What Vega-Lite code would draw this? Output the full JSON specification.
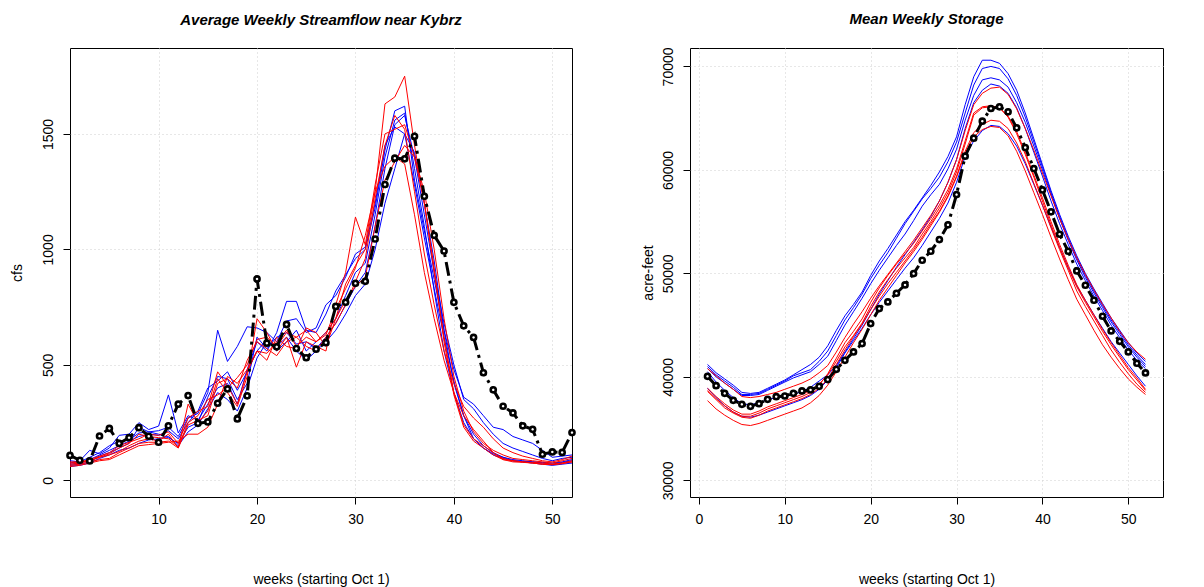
{
"$schema": "https://vega.github.io/schema/vega-lite/v6.json",
"padding": {"left": 9, "top": 11, "right": 0, "bottom": 0},
"bounds": "flush",
"spacing": 118,
"config": {
  "font": "Liberation Sans",
  "view": {"stroke": "black", "strokeWidth": 1},
  "axis": {"domain": false, "tickColor": "black", "tickSize": 7, "labelFont": "Liberation Sans", "labelFontSize": 14, "labelColor": "black", "titleFont": "Liberation Sans", "titleFontSize": 14, "titleFontWeight": "normal", "titleColor": "black", "grid": true, "gridColor": "#cfcfcf", "gridDash": [1, 3], "labelPadding": 8},
  "title": {"font": "Liberation Sans", "fontSize": 15, "fontStyle": "italic", "fontWeight": "bold", "offset": 20, "color": "black"}
},
"datasets": {
"flow": [
{"s":"A1","w":1,"v":85},{"s":"A1","w":2,"v":80},{"s":"A1","w":3,"v":100},{"s":"A1","w":4,"v":120},{"s":"A1","w":5,"v":150},{"s":"A1","w":6,"v":170},{"s":"A1","w":7,"v":175},{"s":"A1","w":8,"v":205},{"s":"A1","w":9,"v":210},{"s":"A1","w":10,"v":215},{"s":"A1","w":11,"v":230},{"s":"A1","w":12,"v":190},{"s":"A1","w":13,"v":270},{"s":"A1","w":14,"v":290},{"s":"A1","w":15,"v":380},{"s":"A1","w":16,"v":650},{"s":"A1","w":17,"v":515},{"s":"A1","w":18,"v":580},{"s":"A1","w":19,"v":665},{"s":"A1","w":20,"v":660},{"s":"A1","w":21,"v":640},{"s":"A1","w":22,"v":600},{"s":"A1","w":23,"v":690},{"s":"A1","w":24,"v":700},{"s":"A1","w":25,"v":640},{"s":"A1","w":26,"v":660},{"s":"A1","w":27,"v":760},{"s":"A1","w":28,"v":800},{"s":"A1","w":29,"v":880},{"s":"A1","w":30,"v":980},{"s":"A1","w":31,"v":1010},{"s":"A1","w":32,"v":1200},{"s":"A1","w":33,"v":1450},{"s":"A1","w":34,"v":1530},{"s":"A1","w":35,"v":1500},{"s":"A1","w":36,"v":1280},{"s":"A1","w":37,"v":1050},{"s":"A1","w":38,"v":830},{"s":"A1","w":39,"v":620},{"s":"A1","w":40,"v":430},{"s":"A1","w":41,"v":280},{"s":"A1","w":42,"v":180},{"s":"A1","w":43,"v":140},{"s":"A1","w":44,"v":110},{"s":"A1","w":45,"v":95},{"s":"A1","w":46,"v":85},{"s":"A1","w":47,"v":82},{"s":"A1","w":48,"v":80},{"s":"A1","w":49,"v":75},{"s":"A1","w":50,"v":70},{"s":"A1","w":51,"v":78},{"s":"A1","w":52,"v":85},
{"s":"A2","w":1,"v":75},{"s":"A2","w":2,"v":85},{"s":"A2","w":3,"v":130},{"s":"A2","w":4,"v":115},{"s":"A2","w":5,"v":140},{"s":"A2","w":6,"v":195},{"s":"A2","w":7,"v":200},{"s":"A2","w":8,"v":250},{"s":"A2","w":9,"v":220},{"s":"A2","w":10,"v":235},{"s":"A2","w":11,"v":370},{"s":"A2","w":12,"v":205},{"s":"A2","w":13,"v":280},{"s":"A2","w":14,"v":260},{"s":"A2","w":15,"v":330},{"s":"A2","w":16,"v":400},{"s":"A2","w":17,"v":420},{"s":"A2","w":18,"v":330},{"s":"A2","w":19,"v":480},{"s":"A2","w":20,"v":600},{"s":"A2","w":21,"v":560},{"s":"A2","w":22,"v":640},{"s":"A2","w":23,"v":775},{"s":"A2","w":24,"v":775},{"s":"A2","w":25,"v":650},{"s":"A2","w":26,"v":640},{"s":"A2","w":27,"v":720},{"s":"A2","w":28,"v":820},{"s":"A2","w":29,"v":890},{"s":"A2","w":30,"v":960},{"s":"A2","w":31,"v":1000},{"s":"A2","w":32,"v":1180},{"s":"A2","w":33,"v":1430},{"s":"A2","w":34,"v":1600},{"s":"A2","w":35,"v":1620},{"s":"A2","w":36,"v":1300},{"s":"A2","w":37,"v":1080},{"s":"A2","w":38,"v":870},{"s":"A2","w":39,"v":650},{"s":"A2","w":40,"v":480},{"s":"A2","w":41,"v":360},{"s":"A2","w":42,"v":330},{"s":"A2","w":43,"v":280},{"s":"A2","w":44,"v":230},{"s":"A2","w":45,"v":220},{"s":"A2","w":46,"v":190},{"s":"A2","w":47,"v":175},{"s":"A2","w":48,"v":160},{"s":"A2","w":49,"v":130},{"s":"A2","w":50,"v":100},{"s":"A2","w":51,"v":105},{"s":"A2","w":52,"v":110},
{"s":"A3","w":1,"v":70},{"s":"A3","w":2,"v":75},{"s":"A3","w":3,"v":90},{"s":"A3","w":4,"v":110},{"s":"A3","w":5,"v":130},{"s":"A3","w":6,"v":150},{"s":"A3","w":7,"v":170},{"s":"A3","w":8,"v":190},{"s":"A3","w":9,"v":200},{"s":"A3","w":10,"v":195},{"s":"A3","w":11,"v":215},{"s":"A3","w":12,"v":180},{"s":"A3","w":13,"v":250},{"s":"A3","w":14,"v":300},{"s":"A3","w":15,"v":400},{"s":"A3","w":16,"v":430},{"s":"A3","w":17,"v":470},{"s":"A3","w":18,"v":390},{"s":"A3","w":19,"v":470},{"s":"A3","w":20,"v":560},{"s":"A3","w":21,"v":610},{"s":"A3","w":22,"v":560},{"s":"A3","w":23,"v":600},{"s":"A3","w":24,"v":650},{"s":"A3","w":25,"v":560},{"s":"A3","w":26,"v":600},{"s":"A3","w":27,"v":640},{"s":"A3","w":28,"v":700},{"s":"A3","w":29,"v":800},{"s":"A3","w":30,"v":900},{"s":"A3","w":31,"v":940},{"s":"A3","w":32,"v":1150},{"s":"A3","w":33,"v":1400},{"s":"A3","w":34,"v":1560},{"s":"A3","w":35,"v":1590},{"s":"A3","w":36,"v":1350},{"s":"A3","w":37,"v":1100},{"s":"A3","w":38,"v":820},{"s":"A3","w":39,"v":560},{"s":"A3","w":40,"v":380},{"s":"A3","w":41,"v":250},{"s":"A3","w":42,"v":180},{"s":"A3","w":43,"v":140},{"s":"A3","w":44,"v":115},{"s":"A3","w":45,"v":100},{"s":"A3","w":46,"v":90},{"s":"A3","w":47,"v":85},{"s":"A3","w":48,"v":80},{"s":"A3","w":49,"v":78},{"s":"A3","w":50,"v":75},{"s":"A3","w":51,"v":80},{"s":"A3","w":52,"v":90},
{"s":"A4","w":1,"v":65},{"s":"A4","w":2,"v":70},{"s":"A4","w":3,"v":80},{"s":"A4","w":4,"v":105},{"s":"A4","w":5,"v":120},{"s":"A4","w":6,"v":140},{"s":"A4","w":7,"v":160},{"s":"A4","w":8,"v":230},{"s":"A4","w":9,"v":210},{"s":"A4","w":10,"v":200},{"s":"A4","w":11,"v":185},{"s":"A4","w":12,"v":160},{"s":"A4","w":13,"v":230},{"s":"A4","w":14,"v":250},{"s":"A4","w":15,"v":360},{"s":"A4","w":16,"v":450},{"s":"A4","w":17,"v":440},{"s":"A4","w":18,"v":350},{"s":"A4","w":19,"v":420},{"s":"A4","w":20,"v":620},{"s":"A4","w":21,"v":570},{"s":"A4","w":22,"v":620},{"s":"A4","w":23,"v":640},{"s":"A4","w":24,"v":590},{"s":"A4","w":25,"v":600},{"s":"A4","w":26,"v":570},{"s":"A4","w":27,"v":620},{"s":"A4","w":28,"v":680},{"s":"A4","w":29,"v":760},{"s":"A4","w":30,"v":840},{"s":"A4","w":31,"v":900},{"s":"A4","w":32,"v":1100},{"s":"A4","w":33,"v":1350},{"s":"A4","w":34,"v":1540},{"s":"A4","w":35,"v":1580},{"s":"A4","w":36,"v":1400},{"s":"A4","w":37,"v":1150},{"s":"A4","w":38,"v":900},{"s":"A4","w":39,"v":680},{"s":"A4","w":40,"v":500},{"s":"A4","w":41,"v":350},{"s":"A4","w":42,"v":310},{"s":"A4","w":43,"v":250},{"s":"A4","w":44,"v":200},{"s":"A4","w":45,"v":160},{"s":"A4","w":46,"v":140},{"s":"A4","w":47,"v":125},{"s":"A4","w":48,"v":110},{"s":"A4","w":49,"v":95},{"s":"A4","w":50,"v":85},{"s":"A4","w":51,"v":95},{"s":"A4","w":52,"v":100},
{"s":"A5","w":1,"v":60},{"s":"A5","w":2,"v":65},{"s":"A5","w":3,"v":75},{"s":"A5","w":4,"v":95},{"s":"A5","w":5,"v":110},{"s":"A5","w":6,"v":130},{"s":"A5","w":7,"v":140},{"s":"A5","w":8,"v":160},{"s":"A5","w":9,"v":175},{"s":"A5","w":10,"v":180},{"s":"A5","w":11,"v":190},{"s":"A5","w":12,"v":150},{"s":"A5","w":13,"v":210},{"s":"A5","w":14,"v":240},{"s":"A5","w":15,"v":310},{"s":"A5","w":16,"v":380},{"s":"A5","w":17,"v":350},{"s":"A5","w":18,"v":300},{"s":"A5","w":19,"v":400},{"s":"A5","w":20,"v":530},{"s":"A5","w":21,"v":600},{"s":"A5","w":22,"v":580},{"s":"A5","w":23,"v":620},{"s":"A5","w":24,"v":560},{"s":"A5","w":25,"v":520},{"s":"A5","w":26,"v":560},{"s":"A5","w":27,"v":600},{"s":"A5","w":28,"v":650},{"s":"A5","w":29,"v":720},{"s":"A5","w":30,"v":800},{"s":"A5","w":31,"v":850},{"s":"A5","w":32,"v":1000},{"s":"A5","w":33,"v":1200},{"s":"A5","w":34,"v":1350},{"s":"A5","w":35,"v":1500},{"s":"A5","w":36,"v":1420},{"s":"A5","w":37,"v":1200},{"s":"A5","w":38,"v":950},{"s":"A5","w":39,"v":650},{"s":"A5","w":40,"v":420},{"s":"A5","w":41,"v":280},{"s":"A5","w":42,"v":200},{"s":"A5","w":43,"v":150},{"s":"A5","w":44,"v":120},{"s":"A5","w":45,"v":100},{"s":"A5","w":46,"v":85},{"s":"A5","w":47,"v":80},{"s":"A5","w":48,"v":75},{"s":"A5","w":49,"v":70},{"s":"A5","w":50,"v":65},{"s":"A5","w":51,"v":70},{"s":"A5","w":52,"v":75},
{"s":"B1","w":1,"v":70},{"s":"B1","w":2,"v":75},{"s":"B1","w":3,"v":85},{"s":"B1","w":4,"v":100},{"s":"B1","w":5,"v":110},{"s":"B1","w":6,"v":125},{"s":"B1","w":7,"v":150},{"s":"B1","w":8,"v":170},{"s":"B1","w":9,"v":180},{"s":"B1","w":10,"v":170},{"s":"B1","w":11,"v":200},{"s":"B1","w":12,"v":140},{"s":"B1","w":13,"v":240},{"s":"B1","w":14,"v":260},{"s":"B1","w":15,"v":280},{"s":"B1","w":16,"v":420},{"s":"B1","w":17,"v":440},{"s":"B1","w":18,"v":400},{"s":"B1","w":19,"v":520},{"s":"B1","w":20,"v":600},{"s":"B1","w":21,"v":570},{"s":"B1","w":22,"v":540},{"s":"B1","w":23,"v":600},{"s":"B1","w":24,"v":620},{"s":"B1","w":25,"v":650},{"s":"B1","w":26,"v":600},{"s":"B1","w":27,"v":640},{"s":"B1","w":28,"v":700},{"s":"B1","w":29,"v":850},{"s":"B1","w":30,"v":930},{"s":"B1","w":31,"v":1000},{"s":"B1","w":32,"v":1250},{"s":"B1","w":33,"v":1630},{"s":"B1","w":34,"v":1660},{"s":"B1","w":35,"v":1750},{"s":"B1","w":36,"v":1450},{"s":"B1","w":37,"v":1200},{"s":"B1","w":38,"v":900},{"s":"B1","w":39,"v":620},{"s":"B1","w":40,"v":380},{"s":"B1","w":41,"v":240},{"s":"B1","w":42,"v":180},{"s":"B1","w":43,"v":150},{"s":"B1","w":44,"v":120},{"s":"B1","w":45,"v":90},{"s":"B1","w":46,"v":85},{"s":"B1","w":47,"v":80},{"s":"B1","w":48,"v":78},{"s":"B1","w":49,"v":75},{"s":"B1","w":50,"v":70},{"s":"B1","w":51,"v":75},{"s":"B1","w":52,"v":80},
{"s":"B2","w":1,"v":65},{"s":"B2","w":2,"v":70},{"s":"B2","w":3,"v":80},{"s":"B2","w":4,"v":90},{"s":"B2","w":5,"v":95},{"s":"B2","w":6,"v":120},{"s":"B2","w":7,"v":140},{"s":"B2","w":8,"v":160},{"s":"B2","w":9,"v":165},{"s":"B2","w":10,"v":165},{"s":"B2","w":11,"v":170},{"s":"B2","w":12,"v":140},{"s":"B2","w":13,"v":330},{"s":"B2","w":14,"v":250},{"s":"B2","w":15,"v":300},{"s":"B2","w":16,"v":440},{"s":"B2","w":17,"v":380},{"s":"B2","w":18,"v":320},{"s":"B2","w":19,"v":450},{"s":"B2","w":20,"v":700},{"s":"B2","w":21,"v":640},{"s":"B2","w":22,"v":560},{"s":"B2","w":23,"v":620},{"s":"B2","w":24,"v":490},{"s":"B2","w":25,"v":600},{"s":"B2","w":26,"v":580},{"s":"B2","w":27,"v":560},{"s":"B2","w":28,"v":760},{"s":"B2","w":29,"v":900},{"s":"B2","w":30,"v":1140},{"s":"B2","w":31,"v":1020},{"s":"B2","w":32,"v":1280},{"s":"B2","w":33,"v":1500},{"s":"B2","w":34,"v":1520},{"s":"B2","w":35,"v":1540},{"s":"B2","w":36,"v":1400},{"s":"B2","w":37,"v":1200},{"s":"B2","w":38,"v":920},{"s":"B2","w":39,"v":600},{"s":"B2","w":40,"v":370},{"s":"B2","w":41,"v":230},{"s":"B2","w":42,"v":170},{"s":"B2","w":43,"v":140},{"s":"B2","w":44,"v":110},{"s":"B2","w":45,"v":90},{"s":"B2","w":46,"v":80},{"s":"B2","w":47,"v":78},{"s":"B2","w":48,"v":75},{"s":"B2","w":49,"v":70},{"s":"B2","w":50,"v":68},{"s":"B2","w":51,"v":72},{"s":"B2","w":52,"v":80},
{"s":"B3","w":1,"v":60},{"s":"B3","w":2,"v":65},{"s":"B3","w":3,"v":75},{"s":"B3","w":4,"v":85},{"s":"B3","w":5,"v":90},{"s":"B3","w":6,"v":110},{"s":"B3","w":7,"v":130},{"s":"B3","w":8,"v":150},{"s":"B3","w":9,"v":155},{"s":"B3","w":10,"v":160},{"s":"B3","w":11,"v":165},{"s":"B3","w":12,"v":170},{"s":"B3","w":13,"v":200},{"s":"B3","w":14,"v":200},{"s":"B3","w":15,"v":230},{"s":"B3","w":16,"v":330},{"s":"B3","w":17,"v":450},{"s":"B3","w":18,"v":420},{"s":"B3","w":19,"v":480},{"s":"B3","w":20,"v":560},{"s":"B3","w":21,"v":550},{"s":"B3","w":22,"v":600},{"s":"B3","w":23,"v":650},{"s":"B3","w":24,"v":580},{"s":"B3","w":25,"v":620},{"s":"B3","w":26,"v":600},{"s":"B3","w":27,"v":630},{"s":"B3","w":28,"v":740},{"s":"B3","w":29,"v":830},{"s":"B3","w":30,"v":920},{"s":"B3","w":31,"v":1060},{"s":"B3","w":32,"v":1250},{"s":"B3","w":33,"v":1360},{"s":"B3","w":34,"v":1400},{"s":"B3","w":35,"v":1370},{"s":"B3","w":36,"v":1150},{"s":"B3","w":37,"v":900},{"s":"B3","w":38,"v":700},{"s":"B3","w":39,"v":520},{"s":"B3","w":40,"v":380},{"s":"B3","w":41,"v":280},{"s":"B3","w":42,"v":220},{"s":"B3","w":43,"v":170},{"s":"B3","w":44,"v":120},{"s":"B3","w":45,"v":95},{"s":"B3","w":46,"v":85},{"s":"B3","w":47,"v":80},{"s":"B3","w":48,"v":75},{"s":"B3","w":49,"v":70},{"s":"B3","w":50,"v":68},{"s":"B3","w":51,"v":75},{"s":"B3","w":52,"v":85},
{"s":"B4","w":1,"v":75},{"s":"B4","w":2,"v":80},{"s":"B4","w":3,"v":85},{"s":"B4","w":4,"v":100},{"s":"B4","w":5,"v":115},{"s":"B4","w":6,"v":140},{"s":"B4","w":7,"v":160},{"s":"B4","w":8,"v":200},{"s":"B4","w":9,"v":190},{"s":"B4","w":10,"v":185},{"s":"B4","w":11,"v":180},{"s":"B4","w":12,"v":145},{"s":"B4","w":13,"v":250},{"s":"B4","w":14,"v":280},{"s":"B4","w":15,"v":350},{"s":"B4","w":16,"v":370},{"s":"B4","w":17,"v":400},{"s":"B4","w":18,"v":445},{"s":"B4","w":19,"v":500},{"s":"B4","w":20,"v":610},{"s":"B4","w":21,"v":620},{"s":"B4","w":22,"v":580},{"s":"B4","w":23,"v":640},{"s":"B4","w":24,"v":620},{"s":"B4","w":25,"v":580},{"s":"B4","w":26,"v":560},{"s":"B4","w":27,"v":620},{"s":"B4","w":28,"v":680},{"s":"B4","w":29,"v":760},{"s":"B4","w":30,"v":860},{"s":"B4","w":31,"v":960},{"s":"B4","w":32,"v":1220},{"s":"B4","w":33,"v":1450},{"s":"B4","w":34,"v":1580},{"s":"B4","w":35,"v":1520},{"s":"B4","w":36,"v":1250},{"s":"B4","w":37,"v":980},{"s":"B4","w":38,"v":760},{"s":"B4","w":39,"v":560},{"s":"B4","w":40,"v":420},{"s":"B4","w":41,"v":320},{"s":"B4","w":42,"v":270},{"s":"B4","w":43,"v":230},{"s":"B4","w":44,"v":180},{"s":"B4","w":45,"v":140},{"s":"B4","w":46,"v":120},{"s":"B4","w":47,"v":105},{"s":"B4","w":48,"v":95},{"s":"B4","w":49,"v":85},{"s":"B4","w":50,"v":80},{"s":"B4","w":51,"v":90},{"s":"B4","w":52,"v":105},
{"s":"B5","w":1,"v":80},{"s":"B5","w":2,"v":80},{"s":"B5","w":3,"v":90},{"s":"B5","w":4,"v":105},{"s":"B5","w":5,"v":120},{"s":"B5","w":6,"v":150},{"s":"B5","w":7,"v":165},{"s":"B5","w":8,"v":180},{"s":"B5","w":9,"v":200},{"s":"B5","w":10,"v":195},{"s":"B5","w":11,"v":210},{"s":"B5","w":12,"v":160},{"s":"B5","w":13,"v":270},{"s":"B5","w":14,"v":300},{"s":"B5","w":15,"v":320},{"s":"B5","w":16,"v":470},{"s":"B5","w":17,"v":410},{"s":"B5","w":18,"v":330},{"s":"B5","w":19,"v":470},{"s":"B5","w":20,"v":560},{"s":"B5","w":21,"v":520},{"s":"B5","w":22,"v":620},{"s":"B5","w":23,"v":580},{"s":"B5","w":24,"v":570},{"s":"B5","w":25,"v":660},{"s":"B5","w":26,"v":640},{"s":"B5","w":27,"v":580},{"s":"B5","w":28,"v":700},{"s":"B5","w":29,"v":780},{"s":"B5","w":30,"v":840},{"s":"B5","w":31,"v":880},{"s":"B5","w":32,"v":1100},{"s":"B5","w":33,"v":1300},{"s":"B5","w":34,"v":1380},{"s":"B5","w":35,"v":1450},{"s":"B5","w":36,"v":1400},{"s":"B5","w":37,"v":1250},{"s":"B5","w":38,"v":1000},{"s":"B5","w":39,"v":700},{"s":"B5","w":40,"v":450},{"s":"B5","w":41,"v":300},{"s":"B5","w":42,"v":210},{"s":"B5","w":43,"v":160},{"s":"B5","w":44,"v":130},{"s":"B5","w":45,"v":110},{"s":"B5","w":46,"v":95},{"s":"B5","w":47,"v":90},{"s":"B5","w":48,"v":85},{"s":"B5","w":49,"v":80},{"s":"B5","w":50,"v":75},{"s":"B5","w":51,"v":85},{"s":"B5","w":52,"v":95},
{"s":"obs","w":1,"v":108},{"s":"obs","w":2,"v":87},{"s":"obs","w":3,"v":84},{"s":"obs","w":4,"v":192},{"s":"obs","w":5,"v":225},{"s":"obs","w":6,"v":160},{"s":"obs","w":7,"v":185},{"s":"obs","w":8,"v":228},{"s":"obs","w":9,"v":191},{"s":"obs","w":10,"v":165},{"s":"obs","w":11,"v":236},{"s":"obs","w":12,"v":330},{"s":"obs","w":13,"v":367},{"s":"obs","w":14,"v":247},{"s":"obs","w":15,"v":253},{"s":"obs","w":16,"v":334},{"s":"obs","w":17,"v":396},{"s":"obs","w":18,"v":266},{"s":"obs","w":19,"v":366},{"s":"obs","w":20,"v":872},{"s":"obs","w":21,"v":594},{"s":"obs","w":22,"v":578},{"s":"obs","w":23,"v":675},{"s":"obs","w":24,"v":571},{"s":"obs","w":25,"v":531},{"s":"obs","w":26,"v":568},{"s":"obs","w":27,"v":596},{"s":"obs","w":28,"v":753},{"s":"obs","w":29,"v":771},{"s":"obs","w":30,"v":853},{"s":"obs","w":31,"v":862},{"s":"obs","w":32,"v":1045},{"s":"obs","w":33,"v":1281},{"s":"obs","w":34,"v":1395},{"s":"obs","w":35,"v":1392},{"s":"obs","w":36,"v":1490},{"s":"obs","w":37,"v":1230},{"s":"obs","w":38,"v":1061},{"s":"obs","w":39,"v":993},{"s":"obs","w":40,"v":771},{"s":"obs","w":41,"v":669},{"s":"obs","w":42,"v":619},{"s":"obs","w":43,"v":466},{"s":"obs","w":44,"v":392},{"s":"obs","w":45,"v":321},{"s":"obs","w":46,"v":292},{"s":"obs","w":47,"v":236},{"s":"obs","w":48,"v":221},{"s":"obs","w":49,"v":113},{"s":"obs","w":50,"v":123},{"s":"obs","w":51,"v":121},{"s":"obs","w":52,"v":207}
],
"stor": [
{"s":"A1","w":1,"v":41200},{"s":"A1","w":2,"v":40400},{"s":"A1","w":3,"v":39800},{"s":"A1","w":4,"v":39200},{"s":"A1","w":5,"v":38500},{"s":"A1","w":6,"v":38400},{"s":"A1","w":7,"v":38500},{"s":"A1","w":8,"v":38900},{"s":"A1","w":9,"v":39300},{"s":"A1","w":10,"v":39700},{"s":"A1","w":11,"v":40200},{"s":"A1","w":12,"v":40700},{"s":"A1","w":13,"v":41200},{"s":"A1","w":14,"v":41900},{"s":"A1","w":15,"v":43000},{"s":"A1","w":16,"v":44500},{"s":"A1","w":17,"v":45900},{"s":"A1","w":18,"v":47000},{"s":"A1","w":19,"v":48200},{"s":"A1","w":20,"v":49800},{"s":"A1","w":21,"v":51200},{"s":"A1","w":22,"v":52400},{"s":"A1","w":23,"v":53700},{"s":"A1","w":24,"v":55000},{"s":"A1","w":25,"v":56100},{"s":"A1","w":26,"v":57300},{"s":"A1","w":27,"v":58500},{"s":"A1","w":28,"v":59800},{"s":"A1","w":29,"v":61300},{"s":"A1","w":30,"v":63200},{"s":"A1","w":31,"v":66300},{"s":"A1","w":32,"v":69000},{"s":"A1","w":33,"v":70600},{"s":"A1","w":34,"v":70600},{"s":"A1","w":35,"v":70300},{"s":"A1","w":36,"v":69300},{"s":"A1","w":37,"v":67700},{"s":"A1","w":38,"v":65500},{"s":"A1","w":39,"v":63000},{"s":"A1","w":40,"v":60500},{"s":"A1","w":41,"v":58000},{"s":"A1","w":42,"v":55700},{"s":"A1","w":43,"v":53600},{"s":"A1","w":44,"v":51700},{"s":"A1","w":45,"v":50000},{"s":"A1","w":46,"v":48500},{"s":"A1","w":47,"v":47100},{"s":"A1","w":48,"v":45700},{"s":"A1","w":49,"v":44500},{"s":"A1","w":50,"v":43300},{"s":"A1","w":51,"v":42300},{"s":"A1","w":52,"v":41500},
{"s":"A2","w":1,"v":41000},{"s":"A2","w":2,"v":40200},{"s":"A2","w":3,"v":39600},{"s":"A2","w":4,"v":39000},{"s":"A2","w":5,"v":38300},{"s":"A2","w":6,"v":38300},{"s":"A2","w":7,"v":38400},{"s":"A2","w":8,"v":38800},{"s":"A2","w":9,"v":39200},{"s":"A2","w":10,"v":39600},{"s":"A2","w":11,"v":40100},{"s":"A2","w":12,"v":40400},{"s":"A2","w":13,"v":40700},{"s":"A2","w":14,"v":41500},{"s":"A2","w":15,"v":42500},{"s":"A2","w":16,"v":44000},{"s":"A2","w":17,"v":45500},{"s":"A2","w":18,"v":46700},{"s":"A2","w":19,"v":48000},{"s":"A2","w":20,"v":49500},{"s":"A2","w":21,"v":50800},{"s":"A2","w":22,"v":52000},{"s":"A2","w":23,"v":53400},{"s":"A2","w":24,"v":54800},{"s":"A2","w":25,"v":56000},{"s":"A2","w":26,"v":57200},{"s":"A2","w":27,"v":58200},{"s":"A2","w":28,"v":59300},{"s":"A2","w":29,"v":60800},{"s":"A2","w":30,"v":62700},{"s":"A2","w":31,"v":65500},{"s":"A2","w":32,"v":68200},{"s":"A2","w":33,"v":69800},{"s":"A2","w":34,"v":70000},{"s":"A2","w":35,"v":69800},{"s":"A2","w":36,"v":68800},{"s":"A2","w":37,"v":67200},{"s":"A2","w":38,"v":65100},{"s":"A2","w":39,"v":62700},{"s":"A2","w":40,"v":60300},{"s":"A2","w":41,"v":57800},{"s":"A2","w":42,"v":55500},{"s":"A2","w":43,"v":53400},{"s":"A2","w":44,"v":51500},{"s":"A2","w":45,"v":49800},{"s":"A2","w":46,"v":48300},{"s":"A2","w":47,"v":46900},{"s":"A2","w":48,"v":45500},{"s":"A2","w":49,"v":44300},{"s":"A2","w":50,"v":43100},{"s":"A2","w":51,"v":42100},{"s":"A2","w":52,"v":41200},
{"s":"A3","w":1,"v":40800},{"s":"A3","w":2,"v":40000},{"s":"A3","w":3,"v":39400},{"s":"A3","w":4,"v":38800},{"s":"A3","w":5,"v":38200},{"s":"A3","w":6,"v":38200},{"s":"A3","w":7,"v":38300},{"s":"A3","w":8,"v":38700},{"s":"A3","w":9,"v":39100},{"s":"A3","w":10,"v":39500},{"s":"A3","w":11,"v":39900},{"s":"A3","w":12,"v":40200},{"s":"A3","w":13,"v":40500},{"s":"A3","w":14,"v":41200},{"s":"A3","w":15,"v":42000},{"s":"A3","w":16,"v":43500},{"s":"A3","w":17,"v":45000},{"s":"A3","w":18,"v":46300},{"s":"A3","w":19,"v":47600},{"s":"A3","w":20,"v":49000},{"s":"A3","w":21,"v":50300},{"s":"A3","w":22,"v":51500},{"s":"A3","w":23,"v":52700},{"s":"A3","w":24,"v":53800},{"s":"A3","w":25,"v":55100},{"s":"A3","w":26,"v":56500},{"s":"A3","w":27,"v":57600},{"s":"A3","w":28,"v":58600},{"s":"A3","w":29,"v":60100},{"s":"A3","w":30,"v":62000},{"s":"A3","w":31,"v":64800},{"s":"A3","w":32,"v":67200},{"s":"A3","w":33,"v":68700},{"s":"A3","w":34,"v":68900},{"s":"A3","w":35,"v":68700},{"s":"A3","w":36,"v":68000},{"s":"A3","w":37,"v":66500},{"s":"A3","w":38,"v":64600},{"s":"A3","w":39,"v":62300},{"s":"A3","w":40,"v":60000},{"s":"A3","w":41,"v":57600},{"s":"A3","w":42,"v":55300},{"s":"A3","w":43,"v":53200},{"s":"A3","w":44,"v":51300},{"s":"A3","w":45,"v":49600},{"s":"A3","w":46,"v":48100},{"s":"A3","w":47,"v":46700},{"s":"A3","w":48,"v":45300},{"s":"A3","w":49,"v":44100},{"s":"A3","w":50,"v":42900},{"s":"A3","w":51,"v":41900},{"s":"A3","w":52,"v":41000},
{"s":"A4","w":1,"v":40500},{"s":"A4","w":2,"v":39500},{"s":"A4","w":3,"v":38700},{"s":"A4","w":4,"v":38000},{"s":"A4","w":5,"v":37400},{"s":"A4","w":6,"v":37300},{"s":"A4","w":7,"v":37500},{"s":"A4","w":8,"v":37800},{"s":"A4","w":9,"v":38000},{"s":"A4","w":10,"v":38100},{"s":"A4","w":11,"v":38300},{"s":"A4","w":12,"v":38600},{"s":"A4","w":13,"v":39000},{"s":"A4","w":14,"v":39600},{"s":"A4","w":15,"v":40200},{"s":"A4","w":16,"v":41100},{"s":"A4","w":17,"v":42400},{"s":"A4","w":18,"v":43700},{"s":"A4","w":19,"v":45000},{"s":"A4","w":20,"v":46500},{"s":"A4","w":21,"v":48000},{"s":"A4","w":22,"v":49300},{"s":"A4","w":23,"v":50600},{"s":"A4","w":24,"v":51800},{"s":"A4","w":25,"v":53000},{"s":"A4","w":26,"v":54200},{"s":"A4","w":27,"v":55500},{"s":"A4","w":28,"v":57000},{"s":"A4","w":29,"v":58800},{"s":"A4","w":30,"v":61000},{"s":"A4","w":31,"v":64000},{"s":"A4","w":32,"v":66500},{"s":"A4","w":33,"v":67700},{"s":"A4","w":34,"v":68300},{"s":"A4","w":35,"v":68100},{"s":"A4","w":36,"v":67400},{"s":"A4","w":37,"v":66000},{"s":"A4","w":38,"v":64000},{"s":"A4","w":39,"v":61700},{"s":"A4","w":40,"v":59400},{"s":"A4","w":41,"v":57000},{"s":"A4","w":42,"v":54800},{"s":"A4","w":43,"v":52800},{"s":"A4","w":44,"v":50900},{"s":"A4","w":45,"v":49300},{"s":"A4","w":46,"v":47800},{"s":"A4","w":47,"v":46400},{"s":"A4","w":48,"v":45000},{"s":"A4","w":49,"v":43800},{"s":"A4","w":50,"v":42600},{"s":"A4","w":51,"v":41600},{"s":"A4","w":52,"v":40800},
{"s":"A5","w":1,"v":38900},{"s":"A5","w":2,"v":38000},{"s":"A5","w":3,"v":37200},{"s":"A5","w":4,"v":36600},{"s":"A5","w":5,"v":36200},{"s":"A5","w":6,"v":36100},{"s":"A5","w":7,"v":36300},{"s":"A5","w":8,"v":36600},{"s":"A5","w":9,"v":36900},{"s":"A5","w":10,"v":37200},{"s":"A5","w":11,"v":37500},{"s":"A5","w":12,"v":37800},{"s":"A5","w":13,"v":38200},{"s":"A5","w":14,"v":38800},{"s":"A5","w":15,"v":39700},{"s":"A5","w":16,"v":40900},{"s":"A5","w":17,"v":42300},{"s":"A5","w":18,"v":43500},{"s":"A5","w":19,"v":44700},{"s":"A5","w":20,"v":46000},{"s":"A5","w":21,"v":47200},{"s":"A5","w":22,"v":48300},{"s":"A5","w":23,"v":49400},{"s":"A5","w":24,"v":50500},{"s":"A5","w":25,"v":51500},{"s":"A5","w":26,"v":52700},{"s":"A5","w":27,"v":54000},{"s":"A5","w":28,"v":55300},{"s":"A5","w":29,"v":56800},{"s":"A5","w":30,"v":58800},{"s":"A5","w":31,"v":61300},{"s":"A5","w":32,"v":62800},{"s":"A5","w":33,"v":63800},{"s":"A5","w":34,"v":64300},{"s":"A5","w":35,"v":64200},{"s":"A5","w":36,"v":63500},{"s":"A5","w":37,"v":62300},{"s":"A5","w":38,"v":60600},{"s":"A5","w":39,"v":58600},{"s":"A5","w":40,"v":56600},{"s":"A5","w":41,"v":54500},{"s":"A5","w":42,"v":52500},{"s":"A5","w":43,"v":50600},{"s":"A5","w":44,"v":48800},{"s":"A5","w":45,"v":47400},{"s":"A5","w":46,"v":46000},{"s":"A5","w":47,"v":44700},{"s":"A5","w":48,"v":43400},{"s":"A5","w":49,"v":42300},{"s":"A5","w":50,"v":41200},{"s":"A5","w":51,"v":40100},{"s":"A5","w":52,"v":39100},
{"s":"B1","w":1,"v":40800},{"s":"B1","w":2,"v":40100},{"s":"B1","w":3,"v":39400},{"s":"B1","w":4,"v":38800},{"s":"B1","w":5,"v":38100},{"s":"B1","w":6,"v":38000},{"s":"B1","w":7,"v":38100},{"s":"B1","w":8,"v":38300},{"s":"B1","w":9,"v":38500},{"s":"B1","w":10,"v":38800},{"s":"B1","w":11,"v":39100},{"s":"B1","w":12,"v":39400},{"s":"B1","w":13,"v":39800},{"s":"B1","w":14,"v":40400},{"s":"B1","w":15,"v":41100},{"s":"B1","w":16,"v":42400},{"s":"B1","w":17,"v":43800},{"s":"B1","w":18,"v":45100},{"s":"B1","w":19,"v":46300},{"s":"B1","w":20,"v":47600},{"s":"B1","w":21,"v":48800},{"s":"B1","w":22,"v":49900},{"s":"B1","w":23,"v":51000},{"s":"B1","w":24,"v":52100},{"s":"B1","w":25,"v":53200},{"s":"B1","w":26,"v":54400},{"s":"B1","w":27,"v":55600},{"s":"B1","w":28,"v":57000},{"s":"B1","w":29,"v":58800},{"s":"B1","w":30,"v":61000},{"s":"B1","w":31,"v":63800},{"s":"B1","w":32,"v":66300},{"s":"B1","w":33,"v":67400},{"s":"B1","w":34,"v":67900},{"s":"B1","w":35,"v":68000},{"s":"B1","w":36,"v":67300},{"s":"B1","w":37,"v":65900},{"s":"B1","w":38,"v":64000},{"s":"B1","w":39,"v":61900},{"s":"B1","w":40,"v":59700},{"s":"B1","w":41,"v":57500},{"s":"B1","w":42,"v":55300},{"s":"B1","w":43,"v":53300},{"s":"B1","w":44,"v":51500},{"s":"B1","w":45,"v":49900},{"s":"B1","w":46,"v":48400},{"s":"B1","w":47,"v":47000},{"s":"B1","w":48,"v":45700},{"s":"B1","w":49,"v":44400},{"s":"B1","w":50,"v":43300},{"s":"B1","w":51,"v":42400},{"s":"B1","w":52,"v":41700},
{"s":"B2","w":1,"v":38900},{"s":"B2","w":2,"v":38100},{"s":"B2","w":3,"v":37400},{"s":"B2","w":4,"v":36800},{"s":"B2","w":5,"v":36400},{"s":"B2","w":6,"v":36400},{"s":"B2","w":7,"v":36700},{"s":"B2","w":8,"v":37100},{"s":"B2","w":9,"v":37400},{"s":"B2","w":10,"v":37700},{"s":"B2","w":11,"v":38000},{"s":"B2","w":12,"v":38300},{"s":"B2","w":13,"v":38700},{"s":"B2","w":14,"v":39300},{"s":"B2","w":15,"v":40200},{"s":"B2","w":16,"v":41500},{"s":"B2","w":17,"v":42900},{"s":"B2","w":18,"v":44000},{"s":"B2","w":19,"v":45200},{"s":"B2","w":20,"v":46800},{"s":"B2","w":21,"v":48200},{"s":"B2","w":22,"v":49400},{"s":"B2","w":23,"v":50500},{"s":"B2","w":24,"v":51500},{"s":"B2","w":25,"v":52500},{"s":"B2","w":26,"v":53800},{"s":"B2","w":27,"v":55000},{"s":"B2","w":28,"v":56300},{"s":"B2","w":29,"v":57800},{"s":"B2","w":30,"v":59800},{"s":"B2","w":31,"v":62500},{"s":"B2","w":32,"v":65300},{"s":"B2","w":33,"v":66000},{"s":"B2","w":34,"v":66100},{"s":"B2","w":35,"v":66000},{"s":"B2","w":36,"v":65200},{"s":"B2","w":37,"v":63700},{"s":"B2","w":38,"v":61700},{"s":"B2","w":39,"v":59500},{"s":"B2","w":40,"v":57300},{"s":"B2","w":41,"v":55000},{"s":"B2","w":42,"v":52800},{"s":"B2","w":43,"v":50800},{"s":"B2","w":44,"v":48900},{"s":"B2","w":45,"v":47400},{"s":"B2","w":46,"v":46000},{"s":"B2","w":47,"v":44600},{"s":"B2","w":48,"v":43300},{"s":"B2","w":49,"v":42100},{"s":"B2","w":50,"v":40900},{"s":"B2","w":51,"v":39900},{"s":"B2","w":52,"v":38800},
{"s":"B3","w":1,"v":38700},{"s":"B3","w":2,"v":37900},{"s":"B3","w":3,"v":37200},{"s":"B3","w":4,"v":36600},{"s":"B3","w":5,"v":36200},{"s":"B3","w":6,"v":36200},{"s":"B3","w":7,"v":36500},{"s":"B3","w":8,"v":36900},{"s":"B3","w":9,"v":37200},{"s":"B3","w":10,"v":37500},{"s":"B3","w":11,"v":37800},{"s":"B3","w":12,"v":38100},{"s":"B3","w":13,"v":38500},{"s":"B3","w":14,"v":39200},{"s":"B3","w":15,"v":40300},{"s":"B3","w":16,"v":41800},{"s":"B3","w":17,"v":43300},{"s":"B3","w":18,"v":44400},{"s":"B3","w":19,"v":45600},{"s":"B3","w":20,"v":47200},{"s":"B3","w":21,"v":48600},{"s":"B3","w":22,"v":49800},{"s":"B3","w":23,"v":50900},{"s":"B3","w":24,"v":51900},{"s":"B3","w":25,"v":52900},{"s":"B3","w":26,"v":54100},{"s":"B3","w":27,"v":55300},{"s":"B3","w":28,"v":56600},{"s":"B3","w":29,"v":58100},{"s":"B3","w":30,"v":60100},{"s":"B3","w":31,"v":62800},{"s":"B3","w":32,"v":65500},{"s":"B3","w":33,"v":66100},{"s":"B3","w":34,"v":66200},{"s":"B3","w":35,"v":66000},{"s":"B3","w":36,"v":65100},{"s":"B3","w":37,"v":63500},{"s":"B3","w":38,"v":61500},{"s":"B3","w":39,"v":59300},{"s":"B3","w":40,"v":57000},{"s":"B3","w":41,"v":54700},{"s":"B3","w":42,"v":52500},{"s":"B3","w":43,"v":50500},{"s":"B3","w":44,"v":48700},{"s":"B3","w":45,"v":47200},{"s":"B3","w":46,"v":45800},{"s":"B3","w":47,"v":44400},{"s":"B3","w":48,"v":43100},{"s":"B3","w":49,"v":41900},{"s":"B3","w":50,"v":40700},{"s":"B3","w":51,"v":39700},{"s":"B3","w":52,"v":38700},
{"s":"B4","w":1,"v":38600},{"s":"B4","w":2,"v":37800},{"s":"B4","w":3,"v":37000},{"s":"B4","w":4,"v":36500},{"s":"B4","w":5,"v":36100},{"s":"B4","w":6,"v":36000},{"s":"B4","w":7,"v":36300},{"s":"B4","w":8,"v":36700},{"s":"B4","w":9,"v":37000},{"s":"B4","w":10,"v":37300},{"s":"B4","w":11,"v":37600},{"s":"B4","w":12,"v":37900},{"s":"B4","w":13,"v":38300},{"s":"B4","w":14,"v":38900},{"s":"B4","w":15,"v":39800},{"s":"B4","w":16,"v":41200},{"s":"B4","w":17,"v":42600},{"s":"B4","w":18,"v":43900},{"s":"B4","w":19,"v":45100},{"s":"B4","w":20,"v":46500},{"s":"B4","w":21,"v":47800},{"s":"B4","w":22,"v":49000},{"s":"B4","w":23,"v":50100},{"s":"B4","w":24,"v":51200},{"s":"B4","w":25,"v":52300},{"s":"B4","w":26,"v":53500},{"s":"B4","w":27,"v":54800},{"s":"B4","w":28,"v":56000},{"s":"B4","w":29,"v":57500},{"s":"B4","w":30,"v":59400},{"s":"B4","w":31,"v":61800},{"s":"B4","w":32,"v":63600},{"s":"B4","w":33,"v":64400},{"s":"B4","w":34,"v":64800},{"s":"B4","w":35,"v":64700},{"s":"B4","w":36,"v":64000},{"s":"B4","w":37,"v":62600},{"s":"B4","w":38,"v":60800},{"s":"B4","w":39,"v":58700},{"s":"B4","w":40,"v":56600},{"s":"B4","w":41,"v":54400},{"s":"B4","w":42,"v":52300},{"s":"B4","w":43,"v":50300},{"s":"B4","w":44,"v":48300},{"s":"B4","w":45,"v":46800},{"s":"B4","w":46,"v":45400},{"s":"B4","w":47,"v":44000},{"s":"B4","w":48,"v":42600},{"s":"B4","w":49,"v":41400},{"s":"B4","w":50,"v":40300},{"s":"B4","w":51,"v":39300},{"s":"B4","w":52,"v":38500},
{"s":"B5","w":1,"v":37700},{"s":"B5","w":2,"v":36900},{"s":"B5","w":3,"v":36300},{"s":"B5","w":4,"v":35800},{"s":"B5","w":5,"v":35400},{"s":"B5","w":6,"v":35300},{"s":"B5","w":7,"v":35500},{"s":"B5","w":8,"v":35800},{"s":"B5","w":9,"v":36100},{"s":"B5","w":10,"v":36400},{"s":"B5","w":11,"v":36700},{"s":"B5","w":12,"v":37000},{"s":"B5","w":13,"v":37500},{"s":"B5","w":14,"v":38200},{"s":"B5","w":15,"v":39200},{"s":"B5","w":16,"v":40500},{"s":"B5","w":17,"v":41900},{"s":"B5","w":18,"v":43300},{"s":"B5","w":19,"v":44600},{"s":"B5","w":20,"v":46000},{"s":"B5","w":21,"v":47400},{"s":"B5","w":22,"v":48600},{"s":"B5","w":23,"v":49800},{"s":"B5","w":24,"v":51000},{"s":"B5","w":25,"v":52100},{"s":"B5","w":26,"v":53300},{"s":"B5","w":27,"v":54600},{"s":"B5","w":28,"v":55900},{"s":"B5","w":29,"v":57400},{"s":"B5","w":30,"v":59300},{"s":"B5","w":31,"v":61600},{"s":"B5","w":32,"v":63200},{"s":"B5","w":33,"v":63900},{"s":"B5","w":34,"v":64200},{"s":"B5","w":35,"v":64100},{"s":"B5","w":36,"v":63300},{"s":"B5","w":37,"v":61800},{"s":"B5","w":38,"v":59900},{"s":"B5","w":39,"v":57800},{"s":"B5","w":40,"v":55700},{"s":"B5","w":41,"v":53500},{"s":"B5","w":42,"v":51400},{"s":"B5","w":43,"v":49400},{"s":"B5","w":44,"v":47500},{"s":"B5","w":45,"v":46000},{"s":"B5","w":46,"v":44500},{"s":"B5","w":47,"v":43100},{"s":"B5","w":48,"v":41900},{"s":"B5","w":49,"v":40800},{"s":"B5","w":50,"v":39800},{"s":"B5","w":51,"v":39000},{"s":"B5","w":52,"v":38300},
{"s":"obs","w":1,"v":40050},{"s":"obs","w":2,"v":39150},{"s":"obs","w":3,"v":38410},{"s":"obs","w":4,"v":37735},{"s":"obs","w":5,"v":37350},{"s":"obs","w":6,"v":37155},{"s":"obs","w":7,"v":37410},{"s":"obs","w":8,"v":37830},{"s":"obs","w":9,"v":38090},{"s":"obs","w":10,"v":38155},{"s":"obs","w":11,"v":38410},{"s":"obs","w":12,"v":38640},{"s":"obs","w":13,"v":38735},{"s":"obs","w":14,"v":39090},{"s":"obs","w":15,"v":39735},{"s":"obs","w":16,"v":40730},{"s":"obs","w":17,"v":41600},{"s":"obs","w":18,"v":42410},{"s":"obs","w":19,"v":43215},{"s":"obs","w":20,"v":45150},{"s":"obs","w":21,"v":46600},{"s":"obs","w":22,"v":47245},{"s":"obs","w":23,"v":48080},{"s":"obs","w":24,"v":48890},{"s":"obs","w":25,"v":49985},{"s":"obs","w":26,"v":51270},{"s":"obs","w":27,"v":52140},{"s":"obs","w":28,"v":53270},{"s":"obs","w":29,"v":54690},{"s":"obs","w":30,"v":57620},{"s":"obs","w":31,"v":61330},{"s":"obs","w":32,"v":63070},{"s":"obs","w":33,"v":64710},{"s":"obs","w":34,"v":65935},{"s":"obs","w":35,"v":66100},{"s":"obs","w":36,"v":65610},{"s":"obs","w":37,"v":64065},{"s":"obs","w":38,"v":62165},{"s":"obs","w":39,"v":60135},{"s":"obs","w":40,"v":58070},{"s":"obs","w":41,"v":55945},{"s":"obs","w":42,"v":53785},{"s":"obs","w":43,"v":52140},{"s":"obs","w":44,"v":50240},{"s":"obs","w":45,"v":48855},{"s":"obs","w":46,"v":47405},{"s":"obs","w":47,"v":45860},{"s":"obs","w":48,"v":44440},{"s":"obs","w":49,"v":43440},{"s":"obs","w":50,"v":42410},{"s":"obs","w":51,"v":41315},{"s":"obs","w":52,"v":40380}
]
},
"hconcat": [
{
  "width": 502, "height": 449,
  "title": {"text": "Average Weekly Streamflow near Kybrz", "anchor": "middle"},
  "data": {"name": "flow"},
  "encoding": {
    "x": {"field": "w", "type": "quantitative", "scale": {"domain": [1, 52], "nice": false, "zero": false}, "axis": {"values": [10, 20, 30, 40, 50], "title": "weeks (starting Oct 1)", "titlePadding": 46}},
    "y": {"field": "v", "type": "quantitative", "scale": {"domain": [-72, 1872], "nice": false, "zero": false}, "axis": {"values": [0, 500, 1000, 1500], "format": "d", "title": "cfs", "labelAngle": -90, "labelAlign": "center", "labelBaseline": "bottom", "titlePadding": 17}}
  },
  "layer": [
    {"transform": [{"filter": "datum.s !== 'obs'"}], "mark": {"type": "line", "strokeWidth": 1},
     "encoding": {"color": {"field": "s", "type": "nominal", "scale": {"domain": ["A1","A2","A3","A4","A5","B1","B2","B3","B4","B5"], "range": ["#0000ff","#0000ff","#0000ff","#0000ff","#0000ff","#ff0000","#ff0000","#ff0000","#ff0000","#ff0000"]}, "legend": null}}},
    {"transform": [{"filter": "datum.s === 'obs'"}], "mark": {"type": "line", "color": "black", "strokeWidth": 3, "strokeDash": [14, 5, 3, 5]}, "encoding": {}},
    {"transform": [{"filter": "datum.s === 'obs'"}], "mark": {"type": "point", "shape": "circle", "filled": true, "fill": "white", "stroke": "black", "strokeWidth": 2.6, "size": 26, "opacity": 1}, "encoding": {}}
  ]
},
{
  "width": 473, "height": 449,
  "title": {"text": "Mean Weekly Storage", "anchor": "middle"},
  "data": {"name": "stor"},
  "encoding": {
    "x": {"field": "w", "type": "quantitative", "scale": {"domain": [-1.04, 54.04], "nice": false, "zero": false}, "axis": {"values": [0, 10, 20, 30, 40, 50], "title": "weeks (starting Oct 1)", "titlePadding": 46}},
    "y": {"field": "v", "type": "quantitative", "scale": {"domain": [28393, 71780], "nice": false, "zero": false}, "axis": {"values": [30000, 40000, 50000, 60000, 70000], "format": "d", "title": "acre-feet", "labelAngle": -90, "labelAlign": "center", "labelBaseline": "bottom", "titlePadding": 6}}
  },
  "layer": [
    {"transform": [{"filter": "datum.s !== 'obs'"}], "mark": {"type": "line", "strokeWidth": 1},
     "encoding": {"color": {"field": "s", "type": "nominal", "scale": {"domain": ["A1","A2","A3","A4","A5","B1","B2","B3","B4","B5"], "range": ["#0000ff","#0000ff","#0000ff","#0000ff","#0000ff","#ff0000","#ff0000","#ff0000","#ff0000","#ff0000"]}, "legend": null}}},
    {"transform": [{"filter": "datum.s === 'obs'"}], "mark": {"type": "line", "color": "black", "strokeWidth": 3, "strokeDash": [14, 5, 3, 5]}, "encoding": {}},
    {"transform": [{"filter": "datum.s === 'obs'"}], "mark": {"type": "point", "shape": "circle", "filled": true, "fill": "white", "stroke": "black", "strokeWidth": 2.6, "size": 26, "opacity": 1}, "encoding": {}}
  ]
}
],
"resolve": {"scale": {"color": "independent"}}
}
